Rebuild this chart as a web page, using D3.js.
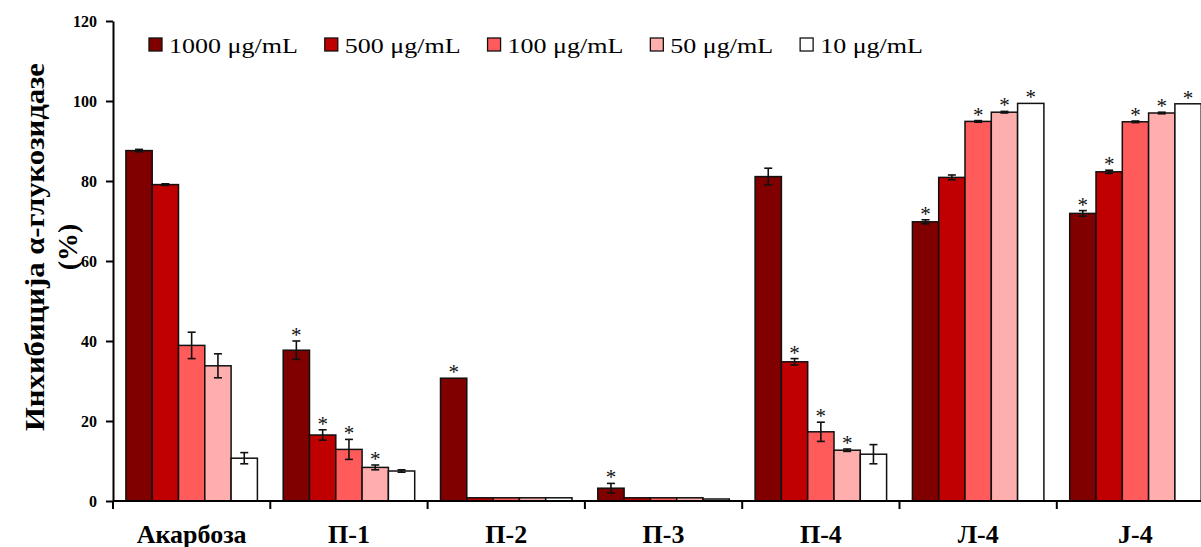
<!DOCTYPE html>
<html lang="sr">
    <head>
        <meta charset="utf-8">
        <title>Инхибиција α-глукозидазе</title>
        <script src="https://d3js.org/d3.v7.min.js"></script>
        <style type="text/css">
            body{
                margin: 0;
                background: #ffffff;
            }
            svg{
                display: block;
                font-family: "Liberation Serif", "Times New Roman", serif;
            }
            .axis path, .axis line{
                stroke: #000;
                stroke-width: 2px;
            }
            .axis text{
                font-family: "Liberation Serif", "Times New Roman", serif;
                font-weight: bold;
                fill: #000;
            }
        </style>
    </head>
    <body>
        <svg width="1201" height="547"></svg>
        <script type="text/javascript">

            // data
            const categories = ["Акарбоза", "П-1", "П-2", "П-3", "П-4", "Л-4", "J-4"];
            const seriesNames = ["1000 μg/mL", "500 μg/mL", "100 μg/mL", "50 μg/mL", "10 μg/mL"];
            const seriesColors = ["#800000", "#C00000", "#FF5B5B", "#FFAEAE", "#FFFFFF"];

            const values1000 = [87.6, 37.7, 30.7, 3.2, 81.1, 69.8, 71.9];
            const values500 = [79.1, 16.5, 0.8, 0.8, 34.8, 80.9, 82.3];
            const values100 = [38.9, 12.9, 0.8, 0.8, 17.3, 94.9, 94.8];
            const values50 = [33.8, 8.4, 0.8, 0.8, 12.7, 97.2, 97.0];
            const values10 = [10.7, 7.5, 0.8, 0.5, 11.7, 99.4, 99.3];

            const err1000 = [0.3, 2.3, 0, 1.2, 2.1, 0.5, 0.7];
            const err500 = [0.2, 1.3, 0, 0, 0.8, 0.6, 0.4];
            const err100 = [3.3, 2.5, 0, 0, 2.4, 0.2, 0.2];
            const err50 = [3.0, 0.6, 0, 0, 0.3, 0.2, 0.2];
            const err10 = [1.4, 0.3, 0, 0, 2.4, 0, 0];

            // 1 = significant (*)
            const star1000 = [0, 1, 1, 1, 0, 1, 1];
            const star500 = [0, 1, 0, 0, 1, 0, 1];
            const star100 = [0, 1, 0, 0, 1, 1, 1];
            const star50 = [0, 1, 0, 0, 1, 1, 1];
            const star10 = [0, 0, 0, 0, 0, 1, 1];

            const yTicks = [0, 20, 40, 60, 80, 100, 120];

            const allValues = [values1000, values500, values100, values50, values10];
            const allErrors = [err1000, err500, err100, err50, err10];
            const allStars = [star1000, star500, star100, star50, star10];

            const bars = [];
            categories.forEach((c, i) => {
                seriesNames.forEach((s, j) => {
                    bars.push({
                        category: c,
                        series: s,
                        color: seriesColors[j],
                        value: allValues[j][i],
                        err: allErrors[j][i],
                        star: allStars[j][i]
                    });
                });
            });

            // layout
            const width = 1201;
            const plotLeft = 113;
            const plotTop = 21;
            const plotBottom = 501;
            const step = 157.3;

            const svg = d3.select("svg");

            const x0 = d3.scaleBand()
                    .domain(categories)
                    .range([plotLeft, plotLeft + step * categories.length]);

            const x1 = d3.scaleBand()
                    .domain(seriesNames)
                    .range([12.9, step - 12.9]);

            const y = d3.scaleLinear()
                    .domain([0, 120])
                    .range([plotBottom, plotTop]);

            // bars
            svg.append("g")
                .selectAll("rect")
                .data(bars)
                .join("rect")
                .attr("x", d => x0(d.category) + x1(d.series))
                .attr("y", d => y(d.value))
                .attr("width", x1.bandwidth())
                .attr("height", d => plotBottom - y(d.value))
                .attr("fill", d => d.color)
                .attr("stroke", "#111")
                .attr("stroke-width", 1.5);

            // error bars
            const errG = svg.append("g")
                .attr("stroke", "#111")
                .attr("stroke-width", 1.6);

            const withErr = bars.filter(d => d.err > 0);
            const cx = d => x0(d.category) + x1(d.series) + x1.bandwidth() / 2;

            errG.selectAll(".stem")
                .data(withErr)
                .join("line")
                .attr("class", "stem")
                .attr("x1", cx)
                .attr("x2", cx)
                .attr("y1", d => y(d.value + d.err))
                .attr("y2", d => y(d.value - d.err));

            errG.selectAll(".capTop")
                .data(withErr)
                .join("line")
                .attr("class", "capTop")
                .attr("x1", d => cx(d) - 4)
                .attr("x2", d => cx(d) + 4)
                .attr("y1", d => y(d.value + d.err))
                .attr("y2", d => y(d.value + d.err));

            errG.selectAll(".capBot")
                .data(withErr)
                .join("line")
                .attr("class", "capBot")
                .attr("x1", d => cx(d) - 4)
                .attr("x2", d => cx(d) + 4)
                .attr("y1", d => y(d.value - d.err))
                .attr("y2", d => y(d.value - d.err));

            // significance stars
            svg.append("g")
                .selectAll("text")
                .data(bars.filter(d => d.star))
                .join("text")
                .attr("x", cx)
                .attr("y", d => y(d.value + d.err) + 1)
                .attr("text-anchor", "middle")
                .attr("font-size", "21px")
                .attr("fill", "#111")
                .text("*");

            // y axis
            svg.append("g")
                .attr("class", "axis")
                .attr("transform", "translate(" + plotLeft + ",0)")
                .call(d3.axisLeft(y).tickValues(yTicks).tickSize(7).tickSizeOuter(0).tickPadding(9))
                .selectAll("text")
                .attr("font-size", "16px");

            // x axis: labels, baseline line and group separators
            const xAxis = svg.append("g")
                .attr("class", "axis")
                .attr("transform", "translate(0," + plotBottom + ")")
                .call(d3.axisBottom(x0).tickSize(0));

            xAxis.select(".domain").remove();
            xAxis.selectAll("text")
                .attr("y", 42)
                .attr("dy", 0)
                .attr("font-size", "26px");

            xAxis.append("line")
                .attr("x1", plotLeft)
                .attr("x2", width)
                .attr("stroke", "#000")
                .attr("stroke-width", 2);

            xAxis.selectAll(".sep")
                .data(categories)
                .join("line")
                .attr("class", "sep")
                .attr("x1", d => x0(d))
                .attr("x2", d => x0(d))
                .attr("y1", 0)
                .attr("y2", 8)
                .attr("stroke", "#000")
                .attr("stroke-width", 2);

            // y axis title
            const yTitle = svg.append("g")
                .attr("font-weight", "bold")
                .attr("font-size", "28px")
                .attr("text-anchor", "middle")
                .attr("fill", "#000");

            yTitle.append("text")
                .attr("transform", "translate(44,247) rotate(-90)")
                .attr("textLength", 368)
                .attr("lengthAdjust", "spacingAndGlyphs")
                .text("Инхибиција α-глукозидазе");

            yTitle.append("text")
                .attr("transform", "translate(77,247) rotate(-90)")
                .text("(%)");

            // legend
            const legend = svg.append("g");
            let lx = 149;
            seriesNames.forEach((s, j) => {
                legend.append("rect")
                    .attr("x", lx)
                    .attr("y", 38)
                    .attr("width", 13)
                    .attr("height", 13)
                    .attr("fill", seriesColors[j])
                    .attr("stroke", "#111")
                    .attr("stroke-width", 1.3);
                const t = legend.append("text")
                    .attr("x", lx + 20)
                    .attr("y", 53)
                    .attr("font-size", "20px")
                    .attr("fill", "#000")
                    .text(s);
                const w = t.node().getComputedTextLength() * 1.3;
                t.attr("textLength", w).attr("lengthAdjust", "spacingAndGlyphs");
                lx += 20 + w + 27;
            });

        </script>
    </body>
</html>
